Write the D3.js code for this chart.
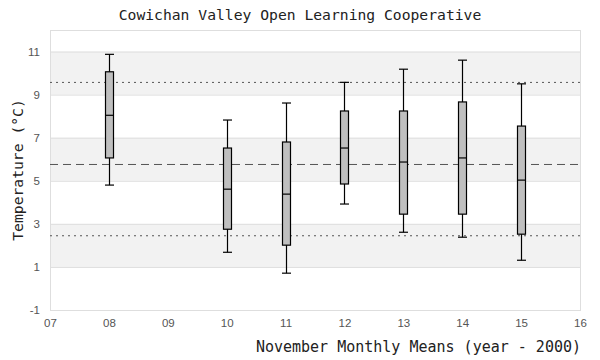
<!DOCTYPE html>
<html>
<head>
<meta charset="utf-8">
<script src="https://cdn.jsdelivr.net/npm/d3@7"></script>
<style>
  body { margin: 0; background: #fff; }
  .tick text { font-family: "Liberation Sans", Arial, sans-serif; font-size: 11.5px; fill: #555; }
  .title { font-family: "DejaVu Sans Mono", monospace; font-size: 14.7px; fill: #222; }
</style>
</head>
<body>
<div id="main"></div>
<script>
// data
var years   = [8, 10, 11, 12, 13, 14, 15];
var lowWhisk = [4.80, 1.68, 0.71, 3.92, 2.61, 2.38, 1.31];
var q1      = [6.06, 2.75, 2.01, 4.85, 3.45, 3.45, 2.52];
var median  = [8.04, 4.61, 4.38, 6.52, 5.87, 6.06, 5.03];
var q3      = [10.06, 6.52, 6.80, 8.24, 8.24, 8.66, 7.54];
var highWhisk = [10.87, 7.82, 8.61, 9.57, 10.18, 10.60, 9.50];
var refLines = [9.59, 5.78, 2.47];
var refDash  = ["2,4", "8,5", "2,4"];
var xTicks = [7, 8, 9, 10, 11, 12, 13, 14, 15, 16];
var yTicks = [-1, 1, 3, 5, 7, 9, 11];
var bands = [[1, 3], [5, 7], [9, 11]];

var width = 600, height = 360;
var margin = {top: 30, right: 20, bottom: 50, left: 50};

var x = d3.scaleLinear().domain([7, 16]).range([margin.left, width - margin.right]);
var y = d3.scaleLinear().domain([-1, 12]).range([height - margin.bottom, margin.top]);

var svg = d3.select("#main").append("svg")
    .attr("width", width)
    .attr("height", height);

// shaded bands
svg.selectAll(".band")
    .data(bands)
    .enter().append("rect")
    .attr("x", x(7))
    .attr("width", x(16) - x(7))
    .attr("y", function(d) { return y(d[1]); })
    .attr("height", function(d) { return y(d[0]) - y(d[1]); })
    .attr("fill", "#f2f2f2");

// grid lines
svg.selectAll(".grid")
    .data(yTicks.slice(1))
    .enter().append("line")
    .attr("x1", x(7)).attr("x2", x(16))
    .attr("y1", function(d) { return y(d) + 0.5; })
    .attr("y2", function(d) { return y(d) + 0.5; })
    .attr("stroke", "#dedede");

// plot border
svg.append("rect")
    .attr("x", x(7) + 0.5)
    .attr("y", y(12) + 0.5)
    .attr("width", x(16) - x(7))
    .attr("height", y(-1) - y(12))
    .attr("fill", "none")
    .attr("stroke", "#dedede");

// reference lines
svg.selectAll(".ref")
    .data(refLines)
    .enter().append("line")
    .attr("x1", x(7)).attr("x2", x(16))
    .attr("y1", function(d) { return y(d) + 0.5; })
    .attr("y2", function(d) { return y(d) + 0.5; })
    .attr("stroke", "#555")
    .attr("stroke-width", 1)
    .attr("stroke-dasharray", function(d, i) { return refDash[i]; });

// axes
var xAxis = svg.append("g")
    .attr("transform", "translate(0," + y(-1) + ")")
    .call(d3.axisBottom(x).tickValues(xTicks).tickSize(0).tickPadding(9)
        .tickFormat(function(d) { return d3.format("02d")(d); }));
xAxis.select(".domain").remove();

var yAxis = svg.append("g")
    .attr("transform", "translate(" + x(7) + ",0)")
    .call(d3.axisLeft(y).tickValues(yTicks).tickSize(0).tickPadding(10)
        .tickFormat(function(d) { return String(d); }));
yAxis.select(".domain").remove();

// boxes
var bw = 8;
var g = svg.selectAll(".box")
    .data(years)
    .enter().append("g")
    .attr("class", "box");

g.append("line")
    .attr("x1", function(d) { return Math.round(x(d)) + 0.5; })
    .attr("x2", function(d) { return Math.round(x(d)) + 0.5; })
    .attr("y1", function(d, i) { return y(highWhisk[i]); })
    .attr("y2", function(d, i) { return y(lowWhisk[i]); })
    .attr("stroke", "#000").attr("stroke-width", 1.2);

[highWhisk, lowWhisk].forEach(function(arr) {
    g.append("line")
        .attr("x1", function(d) { return Math.round(x(d)) - 4; })
        .attr("x2", function(d) { return Math.round(x(d)) + 5; })
        .attr("y1", function(d, i) { return y(arr[i]); })
        .attr("y2", function(d, i) { return y(arr[i]); })
        .attr("stroke", "#000").attr("stroke-width", 1.2);
});

g.append("rect")
    .attr("x", function(d) { return Math.round(x(d)) - bw / 2 + 0.5; })
    .attr("width", bw)
    .attr("y", function(d, i) { return y(q3[i]); })
    .attr("height", function(d, i) { return y(q1[i]) - y(q3[i]); })
    .attr("fill", "#bfbfbf")
    .attr("stroke", "#000").attr("stroke-width", 1.2);

g.append("line")
    .attr("x1", function(d) { return Math.round(x(d)) - bw / 2 + 0.5; })
    .attr("x2", function(d) { return Math.round(x(d)) + bw / 2 + 0.5; })
    .attr("y1", function(d, i) { return y(median[i]); })
    .attr("y2", function(d, i) { return y(median[i]); })
    .attr("stroke", "#000").attr("stroke-width", 1.2);

// titles
svg.append("text")
    .attr("class", "title")
    .attr("x", 300).attr("y", 20)
    .attr("text-anchor", "middle")
    .text("Cowichan Valley Open Learning Cooperative");

svg.append("text")
    .attr("class", "title")
    .attr("transform", "translate(23," + ((y(12) + y(-1)) / 2) + ") rotate(-90)")
    .attr("text-anchor", "middle")
    .text("Temperature (°C)");

svg.append("text")
    .attr("class", "title")
    .style("font-size", "15px")
    .attr("x", 581).attr("y", 352)
    .attr("text-anchor", "end")
    .text("November Monthly Means (year - 2000)");
</script>
</body>
</html>
